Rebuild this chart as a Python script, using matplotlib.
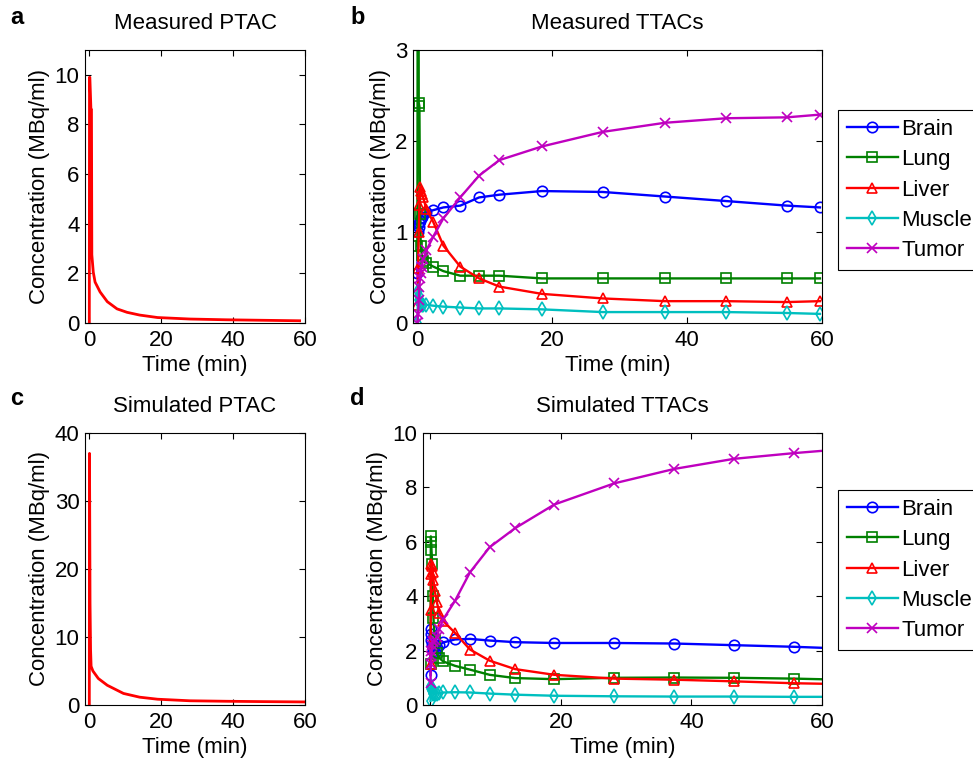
import matplotlib
matplotlib.use('Agg')
import matplotlib.pyplot as plt

plt.rcParams['font.family'] = ['Liberation Sans', 'DejaVu Sans']
plt.rcParams['font.size'] = 16

# measured plasma input (PTAC)
t_ptac = [0, 0.05, 0.15, 0.45, 0.6, 0.7, 1.1, 1.6, 3, 5, 7.7, 10.5, 14, 19, 28, 38, 48, 58.5]
c_ptac = [0, 9.9, 9.9, 8.6, 8.6, 2.75, 2.05, 1.65, 1.25, 0.86, 0.57, 0.43, 0.32, 0.22, 0.16, 0.13, 0.11, 0.09]

# simulated plasma input
t_sptac = [0, 0.05, 0.1, 0.2, 0.35, 0.5, 1, 2.5, 5, 9.5, 14, 19, 28, 38, 48, 60]
c_sptac = [0, 37, 30, 15, 8.1, 5.7, 5.0, 3.9, 2.9, 1.7, 1.15, 0.85, 0.62, 0.55, 0.5, 0.45]

# measured TTACs
t_meas = [0.05, 0.15, 0.25, 0.35, 0.45, 0.55, 0.7, 0.9, 1.4, 2.4, 3.9, 6.4, 9.2, 12.2, 18.5, 27.5, 36.7, 45.8, 54.8, 59.7]
brain = [0.55, 1.0, 1.05, 1.1, 1.12, 1.15, 1.17, 1.2, 1.22, 1.24, 1.27, 1.29, 1.38, 1.41, 1.45, 1.44, 1.39, 1.34, 1.29, 1.27]
lung = [0.85, 8.0, 2.42, 2.38, 1.2, 0.85, 0.75, 0.68, 0.66, 0.62, 0.57, 0.52, 0.52, 0.52, 0.49, 0.49, 0.49, 0.49, 0.49, 0.49]
liver = [0.2, 0.6, 1.0, 1.3, 1.5, 1.45, 1.42, 1.38, 1.25, 1.11, 0.85, 0.62, 0.49, 0.40, 0.32, 0.27, 0.24, 0.24, 0.23, 0.24]
muscle = [0.0, 0.35, 0.3, 0.25, 0.22, 0.21, 0.2, 0.2, 0.2, 0.19, 0.18, 0.17, 0.16, 0.16, 0.15, 0.12, 0.12, 0.12, 0.11, 0.10]
tumor = [0.0, 0.1, 0.25, 0.4, 0.5, 0.55, 0.62, 0.7, 0.8, 0.95, 1.15, 1.38, 1.62, 1.79, 1.94, 2.10, 2.20, 2.25, 2.26, 2.29]

# simulated TTACs
t_sim = [0.05, 0.1, 0.15, 0.2, 0.3, 0.4, 0.5, 0.7, 1.0, 1.4, 2.0, 3.8, 6.1, 9.1, 13.0, 19.0, 28.2, 37.4, 46.5, 55.7, 64.9]
s_brain = [1.1, 2.8, 2.6, 2.4, 2.2, 2.1, 2.0, 1.95, 2.1, 2.2, 2.3, 2.41, 2.43, 2.37, 2.31, 2.28, 2.28, 2.26, 2.20, 2.14, 2.06]
s_lung = [1.5, 6.2, 6.0, 5.7, 5.2, 4.0, 3.2, 2.4, 1.9, 1.73, 1.60, 1.44, 1.30, 1.11, 0.99, 0.95, 1.0, 1.01, 1.0, 0.97, 0.92]
s_liver = [1.5, 3.5, 4.8, 5.2, 5.1, 4.9, 4.6, 4.2, 3.8, 3.4, 3.09, 2.65, 2.04, 1.63, 1.32, 1.11, 0.97, 0.93, 0.87, 0.80, 0.76]
s_muscle = [0.15, 0.7, 0.65, 0.6, 0.5, 0.45, 0.42, 0.4, 0.42, 0.44, 0.46, 0.47, 0.46, 0.42, 0.38, 0.34, 0.32, 0.31, 0.31, 0.30, 0.30]
s_tumor = [0.8, 1.5, 1.8, 2.0, 2.2, 2.3, 2.35, 2.4, 2.5, 2.8, 3.15, 3.83, 4.88, 5.80, 6.5, 7.37, 8.15, 8.68, 9.05, 9.26, 9.44]

names = ['Brain', 'Lung', 'Liver', 'Muscle', 'Tumor']
colors = ['#0000ff', '#008000', '#ff0000', '#00bfbf', '#bf00bf']
markers = ['o', 's', '^', 'd', 'x']

W, H = 973, 765
fig = plt.figure(figsize=(W / 100, H / 100), dpi=100)

def box(l, r, t, b):
    return fig.add_axes([l / W, 1 - b / H, (r - l) / W, (b - t) / H])

def style(ax):
    ax.tick_params(direction='in', top=True, right=True, length=4, width=0.8, labelsize=16)
    ax.tick_params(axis='x', pad=5)
    ax.tick_params(axis='y', pad=4)
    for s in ax.spines.values():
        s.set_linewidth(0.8)
    ax.set_xlabel('Time (min)', labelpad=3)
    ax.set_ylabel('Concentration (MBq/ml)', labelpad=3)

ax_a = box(85, 305, 50, 323)
ax_b = box(413, 822, 50, 323)
ax_c = box(85, 305, 433, 705)
ax_d = box(423, 822, 433, 705)

ax_a.plot(t_ptac, c_ptac, color='r', lw=2)
ax_a.set_xlim(-1.2, 60)
ax_a.set_ylim(0, 11)
ax_a.set_xticks([0, 20, 40, 60])
ax_a.set_yticks([0, 2, 4, 6, 8, 10])
ax_a.set_title('Measured PTAC', fontsize=16, pad=15)
style(ax_a)

ax_c.plot(t_sptac, c_sptac, color='r', lw=2)
ax_c.set_xlim(-1.2, 60)
ax_c.set_ylim(0, 40)
ax_c.set_xticks([0, 20, 40, 60])
ax_c.set_yticks([0, 10, 20, 30, 40])
ax_c.set_title('Simulated PTAC', fontsize=16, pad=15)
style(ax_c)

meas = [brain, lung, liver, muscle, tumor]
sims = [s_brain, s_lung, s_liver, s_muscle, s_tumor]

for ax, series, tt in [(ax_b, meas, t_meas), (ax_d, sims, t_sim)]:
    for y, nm, c, m in zip(series, names, colors, markers):
        ax.plot(tt, y, color=c, marker=m, mfc='none', mec=c, ms=7.5, mew=1.2, lw=1.7, label=nm)
    ax.set_xticks([0, 20, 40, 60])
    style(ax)

ax_b.set_xlim(-0.6, 60)
ax_b.set_ylim(0, 3)
ax_b.set_yticks([0, 1, 2, 3])
ax_b.set_title('Measured TTACs', fontsize=16, pad=15)

ax_d.set_xlim(-1.1, 60)
ax_d.set_ylim(0, 10)
ax_d.set_yticks([0, 2, 4, 6, 8, 10])
ax_d.set_title('Simulated TTACs', fontsize=16, pad=15)

for ax, top in [(ax_b, 110), (ax_d, 490)]:
    leg = ax.legend(loc='upper left', bbox_to_anchor=(838 / W, 1 - top / H),
                    bbox_transform=fig.transFigure, fancybox=False, framealpha=1,
                    edgecolor='black', fontsize=16, handlelength=2.3,
                    handletextpad=0.15, labelspacing=0.42, borderpad=0.4,
                    borderaxespad=0)
    leg.get_frame().set_linewidth(0.8)

for lbl, x, y in [('a', 10, 18), ('b', 350, 18), ('c', 10, 398), ('d', 350, 398)]:
    fig.text(x / W, 1 - y / H, lbl, fontsize=17, fontweight='bold', va='center', ha='left')

fig.savefig('out.png', dpi=100)
